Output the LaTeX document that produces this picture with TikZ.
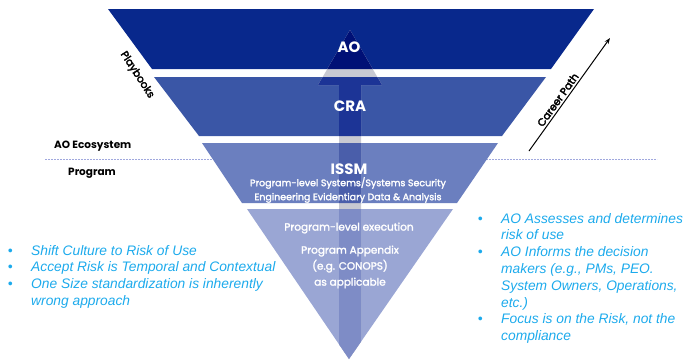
\documentclass[tikz,border=0pt]{standalone}
\usepackage{fontspec}
\setmainfont{Poppins}
\newfontfamily\popmed[FakeBold=2]{Poppins}
\newfontfamily\popsemi[FakeBold=3]{Poppins}
\newfontfamily\bulfont{Liberation Sans}
\usetikzlibrary{arrows.meta}
\definecolor{aoC}{RGB}{8,40,140}
\definecolor{craC}{RGB}{58,86,166}
\definecolor{issmC}{RGB}{107,127,191}
\definecolor{progC}{RGB}{154,166,212}
\definecolor{arGap}{RGB}{200,201,210}
\definecolor{arAO}{RGB}{0,16,118}
\definecolor{arCRA}{RGB}{28,52,150}
\definecolor{arISSM}{RGB}{74,94,170}
\definecolor{arProg}{RGB}{126,140,198}
\definecolor{bulC}{RGB}{28,170,236}
\definecolor{dashC}{RGB}{160,168,222}
\begin{document}
\begin{tikzpicture}[x=1pt,y=-1pt,
  big/.style={text=white,inner sep=0pt,font=\bfseries\fontsize{15}{18}\selectfont},
  sub/.style={text=white,inner sep=0pt,align=center,font=\popmed\fontsize{9.5}{14}\selectfont},
  low/.style={text=white,inner sep=0pt,align=center,font=\popmed\fontsize{10.5}{16}\selectfont},
  lab/.style={inner sep=0pt,font=\bfseries\fontsize{10.5}{12}\selectfont},
  bullist/.style={inner sep=0pt,anchor=north west,text=bulC,font=\bulfont\itshape\fontsize{13.8}{16.8}\selectfont}]
\useasboundingbox (0,0) rectangle (688,360);
% dotted divider
\coordinate (d1) at (45,159);
\coordinate (d2) at (657,159);
\draw[dashC,line width=0.7pt,dash pattern=on 1.6pt off 1.4pt] (d1) -- (d2);
% bands
\coordinate (ao1) at (108,9);  \coordinate (ao2) at (594,9);  \coordinate (ao3) at (551,69);  \coordinate (ao4) at (152,69);
\coordinate (cr1) at (154,77); \coordinate (cr2) at (546,77); \coordinate (cr3) at (502,136); \coordinate (cr4) at (199,136);
\coordinate (is1) at (202,143); \coordinate (is2) at (498,143); \coordinate (is3) at (457,203); \coordinate (is4) at (242,203);
\coordinate (pr1) at (247,209); \coordinate (pr2) at (453,209); \coordinate (pr3) at (349,359);
\fill[aoC] (ao1) -- (ao2) -- (ao3) -- (ao4) -- cycle;
\fill[craC] (cr1) -- (cr2) -- (cr3) -- (cr4) -- cycle;
\fill[issmC] (is1) -- (is2) -- (is3) -- (is4) -- cycle;
\fill[progC] (pr1) -- (pr2) -- (pr3) -- cycle;
% big upward arrow
\coordinate (a1) at (350,30); \coordinate (a2) at (382,85); \coordinate (a3) at (361,85);
\coordinate (a4) at (361,360); \coordinate (a5) at (339,360); \coordinate (a6) at (339,85); \coordinate (a7) at (318,85);
\begin{scope}
  \clip (ao1) -- (ao2) -- (pr2) -- (pr3) -- (pr1) -- cycle;
  \fill[arGap] (a1) -- (a2) -- (a3) -- (a4) -- (a5) -- (a6) -- (a7) -- cycle;
\end{scope}
\begin{scope}
  \clip (ao1) -- (ao2) -- (ao3) -- (ao4) -- cycle;
  \fill[arAO] (a1) -- (a2) -- (a3) -- (a4) -- (a5) -- (a6) -- (a7) -- cycle;
\end{scope}
\begin{scope}
  \clip (cr1) -- (cr2) -- (cr3) -- (cr4) -- cycle;
  \fill[arCRA] (a1) -- (a2) -- (a3) -- (a4) -- (a5) -- (a6) -- (a7) -- cycle;
\end{scope}
\begin{scope}
  \clip (is1) -- (is2) -- (is3) -- (is4) -- cycle;
  \fill[arISSM] (a1) -- (a2) -- (a3) -- (a4) -- (a5) -- (a6) -- (a7) -- cycle;
\end{scope}
\begin{scope}
  \clip (pr1) -- (pr2) -- (pr3) -- cycle;
  \fill[arProg] (a1) -- (a2) -- (a3) -- (a4) -- (a5) -- (a6) -- (a7) -- cycle;
\end{scope}
% band texts
\node[big] (ao) at (349,47) {AO};
\node[big] (cra) at (350,106) {CRA};
\node[big] (issm) at (349,169) {ISSM};
\node[sub] (issmsub) at (348,190) {Program-level Systems/Systems Security\\Engineering Evidentiary Data \& Analysis};
\node[low] (exec) at (349,228) {Program-level execution};
\node[low] (app) at (350,267) {Program Appendix\\(e.g. CONOPS)\\as applicable};
% side labels
\node[lab,anchor=west] (eco) at (54,146) {AO Ecosystem};
\node[lab,anchor=west] (prog) at (68,173) {Program};
\node[inner sep=0pt,font=\popsemi\fontsize{10.5}{12}\selectfont,rotate=-57] (play) at (137,75) {Playbooks};
% career path arrow
\coordinate (cp1) at (529,151);
\coordinate (cp2) at (610,38);
\draw[line width=1pt,-{Stealth[length=6pt,width=4.5pt]}] (cp1) -- (cp2)
  node[pos=0.42,sloped,above=2pt,inner sep=0pt,font=\popsemi\fontsize{10.5}{12}\selectfont] (career) {Career Path};
% bullet lists
\node[bullist] (left) at (7.6,243.2) {\begin{tabular}{@{}p{23.4pt}@{}l@{}}
\textbullet & Shift Culture to Risk of Use\\
\textbullet & Accept Risk is Temporal and Contextual\\
\textbullet & One Size standardization is inherently\\
 & wrong approach
\end{tabular}};
\node[bullist] (right) at (477.6,211.2) {\begin{tabular}{@{}p{23.4pt}@{}l@{}}
\textbullet & AO Assesses and determines\\
 & risk of use\\
\textbullet & AO Informs the decision\\
 & makers (e.g., PMs, PEO.\\
 & System Owners, Operations,\\
 & etc.)\\
\textbullet & Focus is on the Risk, not the\\
 & compliance
\end{tabular}};
\end{tikzpicture}
\end{document}
